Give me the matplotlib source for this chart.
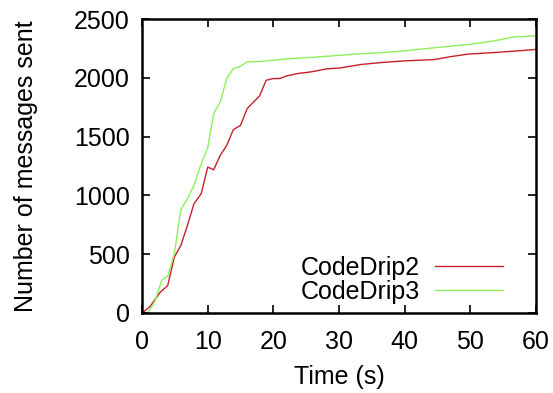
import matplotlib
matplotlib.use("Agg")
import matplotlib.pyplot as plt

plt.rcParams['font.family'] = ['Liberation Sans', 'DejaVu Sans']

t_red = [0, 1.2, 2.75, 3.9, 4.9, 5.9, 6.9, 7.9, 9.0, 10.0, 10.9, 11.9, 12.9, 13.9,
         15.0, 16.0, 17.0, 17.9, 18.9, 20.0, 21.0, 22.0, 23.0, 24.0, 25.0, 26.0,
         27.1, 28.1, 30.2, 33.3, 36.5, 39.9, 44.5, 47.0, 49.6, 53.6, 57.0, 59.7, 60]
v_red = [0, 54, 176, 233, 474, 574, 744, 929, 1014, 1241, 1218, 1340, 1426, 1559,
         1596, 1738, 1795, 1846, 1979, 1994, 1994, 2016, 2028, 2039, 2045, 2053,
         2065, 2076, 2084, 2113, 2130, 2144, 2155, 2180, 2201, 2215, 2228, 2240, 2242]

t_green = [0.9, 2.0, 3.0, 3.9, 4.9, 5.9, 6.9, 7.9, 9.0, 10.0, 10.9, 11.9, 12.9,
           13.9, 15.0, 16.0, 17.0, 18.0, 19.1, 20.1, 21.2, 22.2, 23.2, 24.1, 25.1,
           26.2, 27.2, 28.2, 32.3, 36.0, 39.9, 45.0, 50.1, 53.6, 56.7, 59.7, 60]
v_green = [0, 105, 281, 312, 503, 878, 971, 1085, 1269, 1406, 1695, 1795, 1994,
           2079, 2099, 2136, 2136, 2139, 2145, 2150, 2156, 2162, 2165, 2168, 2171,
           2174, 2180, 2183, 2201, 2212, 2229, 2258, 2286, 2314, 2348, 2357, 2357]

labels = ['CodeDrip2', 'CodeDrip3']

FS = 18
fig = plt.figure(figsize=(5.53, 3.93), dpi=100)
ax = fig.add_axes([0.257, 0.2036, 0.712, 0.748])
ax.plot(t_red, v_red, color='#c8202c', lw=1.0, label=labels[0])
ax.plot(t_green, v_green, color='#8ef05a', lw=1.0, label=labels[1])

ax.set_xlim(0, 60)
ax.set_ylim(0, 2500)
ax.set_xticks(range(0, 61, 10))
ax.set_yticks(range(0, 2501, 500))
ax.tick_params(direction='in', top=True, right=True, length=6, width=1.2,
               labelsize=FS)
ax.tick_params(axis='x', pad=12)
ax.tick_params(axis='y', pad=9)
for s in ax.spines.values():
    s.set_linewidth(1.8)
ax.set_xlabel('Time (s)', fontsize=FS, labelpad=8)
ax.set_ylabel('Number of messages sent', fontsize=FS, labelpad=26)

leg = ax.legend(loc='lower right', frameon=False, markerfirst=False,
                fontsize=FS, handlelength=2.7, handletextpad=0.6,
                labelspacing=0.0, borderaxespad=0, borderpad=0,
                bbox_to_anchor=(0.916, 0.03))

fig.savefig('out.png', dpi=100)
